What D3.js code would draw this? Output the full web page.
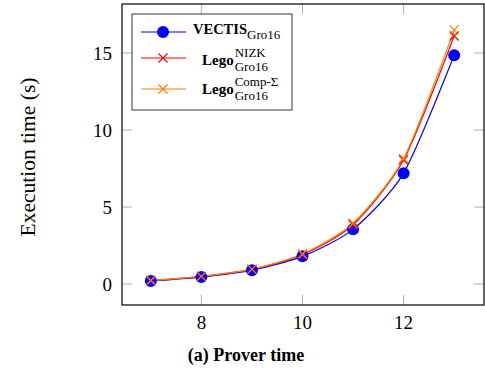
<!DOCTYPE html>
<html>
<head>
<meta charset="utf-8">
<script src="https://cdn.jsdelivr.net/npm/d3@7"></script>
<style>
  body { margin: 0; background: #fff; }
  svg text { font-family: "Liberation Serif", "DejaVu Serif", serif; }
</style>
</head>
<body>
<svg id="chart" width="485" height="373"></svg>
<script>
// circuit size (log2) and prover time in seconds
var sizes = [7, 8, 9, 10, 11, 12, 13];
var vectis = [0.2, 0.45, 0.9, 1.8, 3.55, 7.2, 14.85];
var legoNizk = [0.22, 0.5, 0.95, 1.9, 3.85, 8.05, 16.1];
var legoComp = [0.23, 0.5, 0.97, 1.95, 3.95, 8.15, 16.5];
var xTicks = [8, 10, 12];
var yTicks = [0, 5, 10, 15];

var svg = d3.select("#chart");
var plotL = 122, plotR = 484, plotT = 4, plotB = 305;

var x = d3.scaleLinear().domain([6.43, 13.59]).range([plotL, plotR]);
var y = d3.scaleLinear().domain([-1.36, 18.18]).range([plotB, plotT]);

var tickLen = 10;

// ticks, mirrored on all four sides
var g = svg.append("g");
xTicks.forEach(function(t) {
    g.append("line").attr("x1", x(t)).attr("x2", x(t)).attr("y1", plotB).attr("y2", plotB - tickLen)
        .attr("stroke", "#b0b0b0").attr("stroke-width", 1);
    g.append("line").attr("x1", x(t)).attr("x2", x(t)).attr("y1", plotT).attr("y2", plotT + tickLen)
        .attr("stroke", "#b0b0b0").attr("stroke-width", 1);
    g.append("text").attr("x", x(t)).attr("y", 329).attr("text-anchor", "middle")
        .attr("font-size", "19px").text(t);
});
yTicks.forEach(function(t) {
    g.append("line").attr("x1", plotL).attr("x2", plotL + tickLen).attr("y1", y(t)).attr("y2", y(t))
        .attr("stroke", "#b0b0b0").attr("stroke-width", 1);
    g.append("line").attr("x1", plotR).attr("x2", plotR - tickLen).attr("y1", y(t)).attr("y2", y(t))
        .attr("stroke", "#b0b0b0").attr("stroke-width", 1);
    g.append("text").attr("x", 112).attr("y", y(t)).attr("dy", "0.35em").attr("text-anchor", "end")
        .attr("font-size", "19px").text(t);
});

var line = d3.line()
    .x(function(d) { return x(d[0]); })
    .y(function(d) { return y(d[1]); })
    .curve(d3.curveCardinal.tension(0.3));

var series = [
    { values: vectis, color: "#0000ff", marker: "circle" },
    { values: legoNizk, color: "#ff0000", marker: "cross" },
    { values: legoComp, color: "#ff8000", marker: "cross" }
];

function drawMarker(sel, type, color, cx, cy) {
    if (type === "circle") {
        sel.append("circle").attr("cx", cx).attr("cy", cy).attr("r", 6).attr("fill", color);
    } else {
        var s = 4.5;
        sel.append("path")
            .attr("d", "M" + (cx - s) + "," + (cy - s) + "L" + (cx + s) + "," + (cy + s) +
                       "M" + (cx - s) + "," + (cy + s) + "L" + (cx + s) + "," + (cy - s))
            .attr("stroke", color).attr("stroke-width", 1.2).attr("fill", "none");
    }
}

series.forEach(function(s) {
    var pts = sizes.map(function(v, i) { return [v, s.values[i]]; });
    svg.append("path").datum(pts).attr("d", line)
        .attr("fill", "none").attr("stroke", s.color).attr("stroke-width", 1.2);
});
series.forEach(function(s) {
    var mg = svg.append("g");
    sizes.forEach(function(v, i) {
        drawMarker(mg, s.marker, s.color, x(v), y(s.values[i]));
    });
});

// frame
svg.append("rect").attr("x", plotL).attr("y", plotT).attr("width", plotR - plotL).attr("height", plotB - plotT)
    .attr("fill", "none").attr("stroke", "#000").attr("stroke-width", 1.2);

// legend
var lg = svg.append("g");
lg.append("rect").attr("x", 132).attr("y", 14).attr("width", 160).attr("height", 96)
    .attr("fill", "#fff").attr("stroke", "#555").attr("stroke-width", 1.2);
var rows = [32, 58, 89];
series.forEach(function(s, i) {
    lg.append("line").attr("x1", 141).attr("x2", 186).attr("y1", rows[i]).attr("y2", rows[i])
        .attr("stroke", s.color).attr("stroke-width", 1.2);
    drawMarker(lg, s.marker, s.color, 163, rows[i]);
});

function measure(str, size, weight) {
    var t = svg.append("text").attr("font-size", size).attr("font-weight", weight).text(str);
    var w = t.node().getComputedTextLength();
    t.remove();
    return w;
}

// VECTIS_Gro16
var t1 = lg.append("text").attr("x", 193).attr("y", 34);
t1.append("tspan").attr("font-size", "14.5px").attr("font-weight", "bold").text("VECTIS");
t1.append("tspan").attr("font-size", "13px").attr("dy", 5).text("Gro16");

function legoLabel(xPos, base, sup) {
    lg.append("text").attr("x", xPos).attr("y", base)
        .attr("font-size", "15px").attr("font-weight", "bold").text("Lego");
    var w = measure("Lego", "15px", "bold");
    lg.append("text").attr("x", xPos + w + 1).attr("y", base - 8).attr("font-size", "13px").text(sup);
    lg.append("text").attr("x", xPos + w + 1).attr("y", base + 6).attr("font-size", "13px").text("Gro16");
}
legoLabel(202, 65, "NIZK");
legoLabel(202, 94, "Comp-\u03A3");

// axis labels
svg.append("text").attr("transform", "translate(35,157) rotate(-90)")
    .attr("text-anchor", "middle").attr("font-size", "21.5px").text("Execution time (s)");
svg.append("text").attr("x", 246).attr("y", 361).attr("text-anchor", "middle")
    .attr("font-size", "18px").attr("font-weight", "bold").text("(a) Prover time");
</script>
</body>
</html>
